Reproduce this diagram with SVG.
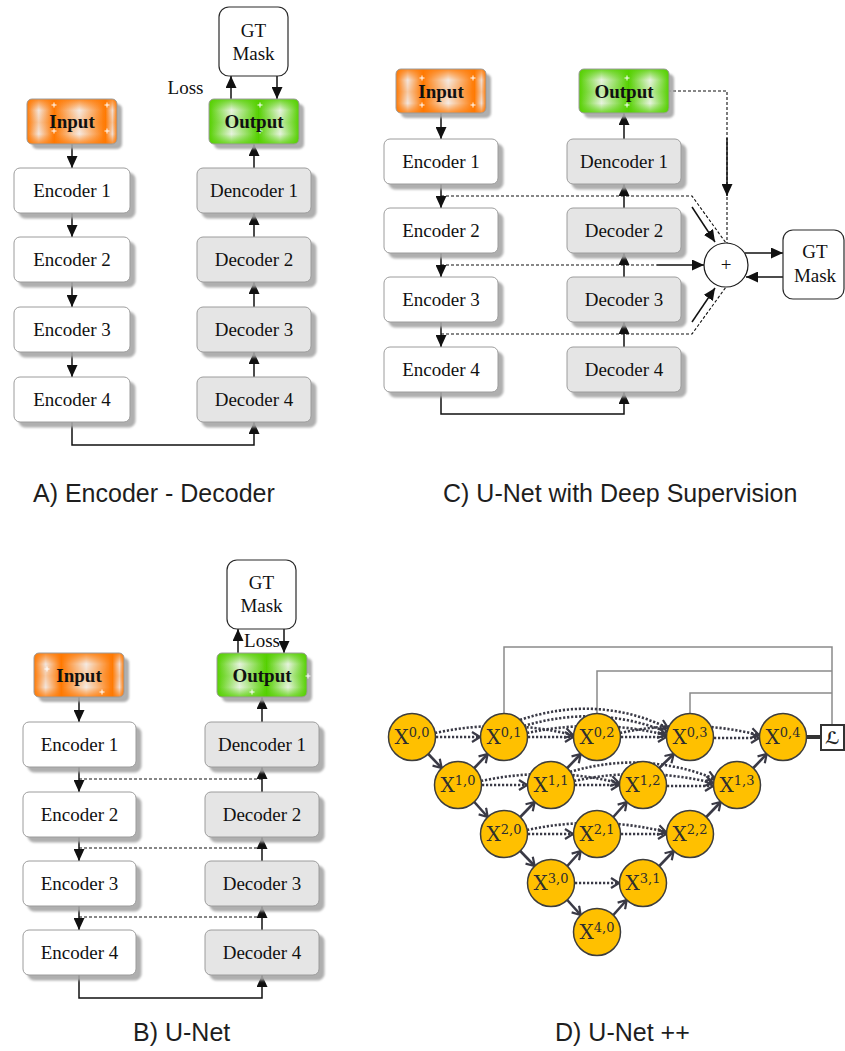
<svg xmlns="http://www.w3.org/2000/svg" xmlns:xlink="http://www.w3.org/1999/xlink" width="845" height="1051" viewBox="0 0 845 1051">
  <style>
    .ln { stroke: #111; stroke-width: 1.5; fill: none; }
    .dash { stroke: #111; stroke-width: 1.1; fill: none; stroke-dasharray: 3 2; }
    .box { stroke: #9c9c9c; stroke-width: 1; }
    .enc { fill: #ffffff; }
    .dec { fill: #e5e5e5; }
    .gt { fill: #ffffff; stroke: #2a2a2a; stroke-width: 1.2; }
    .t { font-family: "Liberation Serif", "Times New Roman", serif; font-size: 19px; fill: #111; text-anchor: middle; }
    .tb { font-weight: bold; }
    .cap { font-family: "Liberation Sans", Arial, sans-serif; font-size: 25px; fill: #1e1e1e; }
    .dsol { stroke: #3a3a46; stroke-width: 2.6; fill: none; }
    .ddot { stroke: #3a3a46; stroke-width: 2.6; fill: none; stroke-dasharray: 2.2 1.8; }
    .gray { stroke: #8a8a8a; stroke-width: 1.5; fill: none; }
    .nd circle { fill: #ffc000; stroke: #3d3d3d; stroke-width: 1.5; }
    .nt { font-family: "DejaVu Serif", "Liberation Serif", serif; font-size: 20px; fill: #2e2e2e; text-anchor: middle; }
  </style>
  <defs>
    <marker id="ah" viewBox="0 0 12 11" refX="12" refY="5.5" markerWidth="12" markerHeight="11" markerUnits="userSpaceOnUse" orient="auto">
      <path d="M0,0 L12,5.5 L0,11 z" fill="#111"/>
    </marker>
    <marker id="chev" viewBox="0 0 10 12" refX="9" refY="6" markerWidth="10" markerHeight="12" markerUnits="userSpaceOnUse" orient="auto">
      <path d="M1,1 L9,6 L1,11" fill="none" stroke="#3a3a46" stroke-width="2.2"/>
    </marker>
    <filter id="sh" x="-10%" y="-10%" width="130%" height="150%">
      <feGaussianBlur in="SourceAlpha" stdDeviation="1.2"/>
      <feOffset dx="5" dy="5" result="b"/>
      <feFlood flood-color="#a6a6a6" flood-opacity="0.9"/>
      <feComposite in2="b" operator="in"/>
      <feMerge><feMergeNode/><feMergeNode in="SourceGraphic"/></feMerge>
    </filter>
    <!-- glossy orange fill: vertical stripes plus horizontal bands -->
    <linearGradient id="orH" x1="0" y1="0" x2="1" y2="0">
      <stop offset="0" stop-color="#ff7800"/>
      <stop offset="0.13" stop-color="#f3e6de"/>
      <stop offset="0.30" stop-color="#ff7800"/>
      <stop offset="0.58" stop-color="#f5ebe4"/>
      <stop offset="0.87" stop-color="#ff7800"/>
      <stop offset="0.95" stop-color="#f2ddd0"/>
      <stop offset="1" stop-color="#ff7800"/>
    </linearGradient>
    <linearGradient id="orV" x1="0" y1="0" x2="0" y2="1">
      <stop offset="0" stop-color="#ff7800" stop-opacity="0.85"/>
      <stop offset="0.25" stop-color="#ff7800" stop-opacity="0"/>
      <stop offset="0.52" stop-color="#ff7800" stop-opacity="0.25"/>
      <stop offset="0.78" stop-color="#ff7800" stop-opacity="0"/>
      <stop offset="1" stop-color="#ff7800" stop-opacity="0.8"/>
    </linearGradient>
    <!-- glossy green fill -->
    <linearGradient id="grH" x1="0" y1="0" x2="1" y2="0">
      <stop offset="0" stop-color="#55d000"/>
      <stop offset="0.25" stop-color="#e8f3e0"/>
      <stop offset="0.55" stop-color="#55d000"/>
      <stop offset="0.79" stop-color="#e8f3e0"/>
      <stop offset="1" stop-color="#55d000"/>
    </linearGradient>
    <linearGradient id="grV" x1="0" y1="0" x2="0" y2="1">
      <stop offset="0" stop-color="#55d000" stop-opacity="0.85"/>
      <stop offset="0.25" stop-color="#55d000" stop-opacity="0"/>
      <stop offset="0.52" stop-color="#55d000" stop-opacity="0.25"/>
      <stop offset="0.78" stop-color="#55d000" stop-opacity="0"/>
      <stop offset="1" stop-color="#55d000" stop-opacity="0.8"/>
    </linearGradient>
    <path id="spk" d="M-2.5,0 H2.5 M0,-2.5 V2.5" stroke="#ffffff" stroke-width="1"/>
  </defs>

  <rect width="845" height="1051" fill="#ffffff"/>

  <g id="connectors">
    <!-- A: encoder-decoder -->
    <g id="conn-a">
      <path class="ln" marker-end="url(#ah)" d="M72,144 V168"/>
      <path class="ln" marker-end="url(#ah)" d="M72,213 V237"/>
      <path class="ln" marker-end="url(#ah)" d="M72,282 V307"/>
      <path class="ln" marker-end="url(#ah)" d="M72,352 V377"/>
      <path class="ln" marker-end="url(#ah)" d="M72,422 V445 H254 V422"/>
      <path class="ln" marker-end="url(#ah)" d="M254,377 V352"/>
      <path class="ln" marker-end="url(#ah)" d="M254,307 V282"/>
      <path class="ln" marker-end="url(#ah)" d="M254,237 V213"/>
      <path class="ln" marker-end="url(#ah)" d="M254,168 V144"/>
      <path class="ln" marker-end="url(#ah)" d="M231,99 V76"/>
      <path class="ln" marker-end="url(#ah)" d="M277,76 V99"/>
    </g>
    <!-- C: U-Net with deep supervision -->
    <g id="conn-c">
      <path class="dash" d="M441,196 H692 L726,243"/>
      <path class="dash" d="M441,265 H657"/>
      <path class="dash" d="M441,334 H692 L726,287"/>
      <path class="dash" d="M668,91 H727 V243"/>
      <path class="ln" marker-end="url(#ah)" d="M727,138 V196"/>
      <path class="ln" marker-end="url(#ah)" d="M692,207 L715,242"/>
      <path class="ln" marker-end="url(#ah)" d="M657,265 H704"/>
      <path class="ln" marker-end="url(#ah)" d="M692,322 L715,288"/>
      <path class="ln" marker-end="url(#ah)" d="M745,253 H783"/>
      <path class="ln" marker-end="url(#ah)" d="M783,277 H746"/>
      <path class="ln" marker-end="url(#ah)" d="M441,113 V139"/>
      <path class="ln" marker-end="url(#ah)" d="M441,184 V208"/>
      <path class="ln" marker-end="url(#ah)" d="M441,253 V277"/>
      <path class="ln" marker-end="url(#ah)" d="M441,322 V347"/>
      <path class="ln" marker-end="url(#ah)" d="M441,392 V414 H624 V392"/>
      <path class="ln" marker-end="url(#ah)" d="M624,347 V322"/>
      <path class="ln" marker-end="url(#ah)" d="M624,277 V253"/>
      <path class="ln" marker-end="url(#ah)" d="M624,208 V184"/>
      <path class="ln" marker-end="url(#ah)" d="M624,139 V113"/>
    </g>
    <!-- B: U-Net -->
    <g id="conn-b">
      <path class="dash" d="M79,779 H262"/>
      <path class="dash" d="M79,848 H262"/>
      <path class="dash" d="M79,917 H262"/>
      <path class="ln" marker-end="url(#ah)" d="M79,697 V722"/>
      <path class="ln" marker-end="url(#ah)" d="M79,767 V792"/>
      <path class="ln" marker-end="url(#ah)" d="M79,837 V861"/>
      <path class="ln" marker-end="url(#ah)" d="M79,906 V930"/>
      <path class="ln" marker-end="url(#ah)" d="M79,975 V998 H262 V975"/>
      <path class="ln" marker-end="url(#ah)" d="M262,930 V906"/>
      <path class="ln" marker-end="url(#ah)" d="M262,861 V837"/>
      <path class="ln" marker-end="url(#ah)" d="M262,792 V767"/>
      <path class="ln" marker-end="url(#ah)" d="M262,722 V697"/>
      <path class="ln" marker-end="url(#ah)" d="M238,653 V629"/>
      <path class="ln" marker-end="url(#ah)" d="M284,629 V653"/>
    </g>
    <!-- D: U-Net++ -->
    <g id="conn-d">
      <path class="gray" d="M504,714 V647 H832 V725"/>
      <path class="gray" d="M597,714 V671 H832"/>
      <path class="gray" d="M690,714 V693 H832"/>
      <path d="M806,737 H821" stroke="#333" stroke-width="4"/>
      <!-- dense skip pathways (pass behind intermediate nodes) -->
      <path class="ddot" marker-end="url(#chev)" d="M435,733 Q504,718 573,735"/>
      <path class="ddot" marker-end="url(#chev)" d="M527,733 Q597,718 666,735"/>
      <path class="ddot" marker-end="url(#chev)" d="M620,733 Q690,718 759,735"/>
      <path class="ddot" marker-end="url(#chev)" d="M520,720 Q597,694 668,728"/>
      <path class="ddot" marker-end="url(#chev)" d="M524,726 Q597,704 667,732"/>
      <path class="ddot" marker-end="url(#chev)" d="M481,781 Q551,766 619,783"/>
      <path class="ddot" marker-end="url(#chev)" d="M574,781 Q643,766 713,783"/>
      <path class="ddot" marker-end="url(#chev)" d="M570,772 Q643,750 715,779"/>
      <path class="ddot" marker-end="url(#chev)" d="M527,830 Q597,815 666,832"/>
      <path class="ddot" marker-end="url(#chev)" d="M436,737 H480"/>
      <path class="ddot" marker-end="url(#chev)" d="M528,737 H573"/>
      <path class="ddot" marker-end="url(#chev)" d="M621,737 H666"/>
      <path class="ddot" marker-end="url(#chev)" d="M714,738 H759"/>
      <path class="ddot" marker-end="url(#chev)" d="M482,785 H527"/>
      <path class="ddot" marker-end="url(#chev)" d="M575,785 H619"/>
      <path class="ddot" marker-end="url(#chev)" d="M667,786 H713"/>
      <path class="ddot" marker-end="url(#chev)" d="M528,834 H573"/>
      <path class="ddot" marker-end="url(#chev)" d="M621,834 H666"/>
      <path class="ddot" marker-end="url(#chev)" d="M575,883 H619"/>
      <!-- down-sampling -->
      <path class="dsol" marker-end="url(#chev)" d="M428.3,754 L441.7,768"/>
      <path class="dsol" marker-end="url(#chev)" d="M474.3,802 L487.7,817"/>
      <path class="dsol" marker-end="url(#chev)" d="M520.3,851 L534.7,866"/>
      <path class="dsol" marker-end="url(#chev)" d="M567.3,900 L580.7,915"/>
      <!-- up-sampling -->
      <path class="dsol" marker-end="url(#chev)" d="M474.3,768 L487.7,754"/>
      <path class="dsol" marker-end="url(#chev)" d="M567.3,768 L580.7,754"/>
      <path class="dsol" marker-end="url(#chev)" d="M659.3,768 L673.7,754"/>
      <path class="dsol" marker-end="url(#chev)" d="M753.3,768 L766.7,754"/>
      <path class="dsol" marker-end="url(#chev)" d="M520.3,817 L534.7,802"/>
      <path class="dsol" marker-end="url(#chev)" d="M613.3,817 L626.7,802"/>
      <path class="dsol" marker-end="url(#chev)" d="M706.3,817 L720.7,802"/>
      <path class="dsol" marker-end="url(#chev)" d="M567.3,866 L580.7,851"/>
      <path class="dsol" marker-end="url(#chev)" d="M659.3,866 L673.7,851"/>
      <path class="dsol" marker-end="url(#chev)" d="M613.3,915 L626.7,900"/>
    </g>
  </g>

  <!-- Panel A -->
  <g id="a-input">
    <rect x="27" y="99" width="90" height="45" rx="5" fill="url(#orH)" filter="url(#sh)"/>
    <rect x="27" y="99" width="90" height="45" rx="5" fill="url(#orV)" class="box"/>
    <use xlink:href="#spk" x="54" y="105"/><use xlink:href="#spk" x="107" y="105"/>
    <use xlink:href="#spk" x="54" y="131"/><use xlink:href="#spk" x="107" y="131"/>
    <text class="t tb" x="72" y="128">Input</text>
  </g>
  <g id="a-enc1"><rect class="box enc" x="14" y="168" width="116" height="45" rx="6" filter="url(#sh)"/><text class="t" x="72" y="197">Encoder 1</text></g>
  <g id="a-enc2"><rect class="box enc" x="14" y="237" width="116" height="45" rx="6" filter="url(#sh)"/><text class="t" x="72" y="266">Encoder 2</text></g>
  <g id="a-enc3"><rect class="box enc" x="14" y="307" width="116" height="45" rx="6" filter="url(#sh)"/><text class="t" x="72" y="336">Encoder 3</text></g>
  <g id="a-enc4"><rect class="box enc" x="14" y="377" width="116" height="45" rx="6" filter="url(#sh)"/><text class="t" x="72" y="406">Encoder 4</text></g>
  <g id="a-output">
    <rect x="209" y="99" width="90" height="45" rx="5" fill="url(#grH)" filter="url(#sh)"/>
    <rect x="209" y="99" width="90" height="45" rx="5" fill="url(#grV)" class="box"/>
    <use xlink:href="#spk" x="260" y="105"/><use xlink:href="#spk" x="260" y="131"/>
    <text class="t tb" x="254" y="128">Output</text>
  </g>
  <g id="a-dec1"><rect class="box dec" x="197" y="168" width="114" height="45" rx="6" filter="url(#sh)"/><text class="t" x="254" y="197">Dencoder 1</text></g>
  <g id="a-dec2"><rect class="box dec" x="197" y="237" width="114" height="45" rx="6" filter="url(#sh)"/><text class="t" x="254" y="266">Decoder 2</text></g>
  <g id="a-dec3"><rect class="box dec" x="197" y="307" width="114" height="45" rx="6" filter="url(#sh)"/><text class="t" x="254" y="336">Decoder 3</text></g>
  <g id="a-dec4"><rect class="box dec" x="197" y="377" width="114" height="45" rx="6" filter="url(#sh)"/><text class="t" x="254" y="406">Decoder 4</text></g>
  <g id="a-gt">
    <rect class="gt" x="219" y="7" width="69" height="69" rx="10"/>
    <text class="t" x="253.5" y="37">GT</text>
    <text class="t" x="253.5" y="60">Mask</text>
  </g>
  <text class="t" x="185.5" y="94">Loss</text>
  <text class="cap" x="33" y="502">A) Encoder - Decoder</text>

  <!-- Panel C -->
  <g id="c-input">
    <rect x="396" y="69" width="90" height="44" rx="5" fill="url(#orH)" filter="url(#sh)"/>
    <rect x="396" y="69" width="90" height="44" rx="5" fill="url(#orV)" class="box"/>
    <use xlink:href="#spk" x="422" y="78"/><use xlink:href="#spk" x="473" y="78"/>
    <use xlink:href="#spk" x="422" y="105"/><use xlink:href="#spk" x="473" y="105"/>
    <text class="t tb" x="441" y="98">Input</text>
  </g>
  <g id="c-enc1"><rect class="box enc" x="384" y="139" width="114" height="45" rx="6" filter="url(#sh)"/><text class="t" x="441" y="168">Encoder 1</text></g>
  <g id="c-enc2"><rect class="box enc" x="384" y="208" width="114" height="45" rx="6" filter="url(#sh)"/><text class="t" x="441" y="237">Encoder 2</text></g>
  <g id="c-enc3"><rect class="box enc" x="384" y="277" width="114" height="45" rx="6" filter="url(#sh)"/><text class="t" x="441" y="306">Encoder 3</text></g>
  <g id="c-enc4"><rect class="box enc" x="384" y="347" width="114" height="45" rx="6" filter="url(#sh)"/><text class="t" x="441" y="376">Encoder 4</text></g>
  <g id="c-output">
    <rect x="579" y="69" width="90" height="44" rx="5" fill="url(#grH)" filter="url(#sh)"/>
    <rect x="579" y="69" width="90" height="44" rx="5" fill="url(#grV)" class="box"/>
    <use xlink:href="#spk" x="627" y="78"/><use xlink:href="#spk" x="627" y="105"/>
    <text class="t tb" x="624" y="98">Output</text>
  </g>
  <g id="c-dec1"><rect class="box dec" x="567" y="139" width="114" height="45" rx="6" filter="url(#sh)"/><text class="t" x="624" y="168">Dencoder 1</text></g>
  <g id="c-dec2"><rect class="box dec" x="567" y="208" width="114" height="45" rx="6" filter="url(#sh)"/><text class="t" x="624" y="237">Decoder 2</text></g>
  <g id="c-dec3"><rect class="box dec" x="567" y="277" width="114" height="45" rx="6" filter="url(#sh)"/><text class="t" x="624" y="306">Decoder 3</text></g>
  <g id="c-dec4"><rect class="box dec" x="567" y="347" width="114" height="45" rx="6" filter="url(#sh)"/><text class="t" x="624" y="376">Decoder 4</text></g>
  <g id="c-sum">
    <circle cx="726" cy="265" r="22" fill="#ffffff" stroke="#1a1a1a" stroke-width="1.2"/>
    <text class="t" x="726" y="271">+</text>
  </g>
  <g id="c-gt">
    <rect class="gt" x="783" y="230" width="61" height="69" rx="10"/>
    <text class="t" x="815" y="258">GT</text>
    <text class="t" x="815" y="282">Mask</text>
  </g>
  <text class="cap" x="443" y="502">C) U-Net with Deep Supervision</text>

  <!-- Panel B -->
  <g id="b-input">
    <rect x="34" y="653" width="90" height="44" rx="5" fill="url(#orH)" filter="url(#sh)"/>
    <rect x="34" y="653" width="90" height="44" rx="5" fill="url(#orV)" class="box"/>
    <use xlink:href="#spk" x="47" y="669"/><use xlink:href="#spk" x="102" y="692"/>
    <text class="t tb" x="79" y="682">Input</text>
  </g>
  <g id="b-enc1"><rect class="box enc" x="23" y="722" width="113" height="45" rx="6" filter="url(#sh)"/><text class="t" x="79.5" y="751">Encoder 1</text></g>
  <g id="b-enc2"><rect class="box enc" x="23" y="792" width="113" height="45" rx="6" filter="url(#sh)"/><text class="t" x="79.5" y="821">Encoder 2</text></g>
  <g id="b-enc3"><rect class="box enc" x="23" y="861" width="113" height="45" rx="6" filter="url(#sh)"/><text class="t" x="79.5" y="890">Encoder 3</text></g>
  <g id="b-enc4"><rect class="box enc" x="23" y="930" width="113" height="45" rx="6" filter="url(#sh)"/><text class="t" x="79.5" y="959">Encoder 4</text></g>
  <g id="b-output">
    <rect x="217" y="653" width="90" height="44" rx="5" fill="url(#grH)" filter="url(#sh)"/>
    <rect x="217" y="653" width="90" height="44" rx="5" fill="url(#grV)" class="box"/>
    <use xlink:href="#spk" x="252" y="692"/><use xlink:href="#spk" x="308" y="676"/>
    <text class="t tb" x="262" y="682">Output</text>
  </g>
  <g id="b-dec1"><rect class="box dec" x="205" y="722" width="114" height="45" rx="6" filter="url(#sh)"/><text class="t" x="262" y="751">Dencoder 1</text></g>
  <g id="b-dec2"><rect class="box dec" x="205" y="792" width="114" height="45" rx="6" filter="url(#sh)"/><text class="t" x="262" y="821">Decoder 2</text></g>
  <g id="b-dec3"><rect class="box dec" x="205" y="861" width="114" height="45" rx="6" filter="url(#sh)"/><text class="t" x="262" y="890">Decoder 3</text></g>
  <g id="b-dec4"><rect class="box dec" x="205" y="930" width="114" height="45" rx="6" filter="url(#sh)"/><text class="t" x="262" y="959">Decoder 4</text></g>
  <g id="b-gt">
    <rect class="gt" x="227" y="560" width="69" height="69" rx="10"/>
    <text class="t" x="261.5" y="589">GT</text>
    <text class="t" x="261.5" y="612">Mask</text>
  </g>
  <text class="t" x="262" y="647">Loss</text>
  <text class="cap" x="133" y="1041">B) U-Net</text>

  <!-- Panel D: nested U-Net nodes X^{i,j} -->
  <g class="nd">
    <g id="x00"><circle cx="412" cy="737" r="23.5"/><text class="nt" x="412" y="744">X<tspan dy="-7" font-size="13">0,0</tspan></text></g>
    <g id="x01"><circle cx="504" cy="737" r="23.5"/><text class="nt" x="504" y="744">X<tspan dy="-7" font-size="13">0,1</tspan></text></g>
    <g id="x02"><circle cx="597" cy="737" r="23.5"/><text class="nt" x="597" y="744">X<tspan dy="-7" font-size="13">0,2</tspan></text></g>
    <g id="x03"><circle cx="690" cy="737" r="23.5"/><text class="nt" x="690" y="744">X<tspan dy="-7" font-size="13">0,3</tspan></text></g>
    <g id="x04"><circle cx="783" cy="737" r="23.5"/><text class="nt" x="783" y="744">X<tspan dy="-7" font-size="13">0,4</tspan></text></g>
    <g id="x10"><circle cx="458" cy="785" r="23.5"/><text class="nt" x="458" y="792">X<tspan dy="-7" font-size="13">1,0</tspan></text></g>
    <g id="x11"><circle cx="551" cy="785" r="23.5"/><text class="nt" x="551" y="792">X<tspan dy="-7" font-size="13">1,1</tspan></text></g>
    <g id="x12"><circle cx="643" cy="785" r="23.5"/><text class="nt" x="643" y="792">X<tspan dy="-7" font-size="13">1,2</tspan></text></g>
    <g id="x13"><circle cx="737" cy="785" r="23.5"/><text class="nt" x="737" y="792">X<tspan dy="-7" font-size="13">1,3</tspan></text></g>
    <g id="x20"><circle cx="504" cy="834" r="23.5"/><text class="nt" x="504" y="841">X<tspan dy="-7" font-size="13">2,0</tspan></text></g>
    <g id="x21"><circle cx="597" cy="834" r="23.5"/><text class="nt" x="597" y="841">X<tspan dy="-7" font-size="13">2,1</tspan></text></g>
    <g id="x22"><circle cx="690" cy="834" r="23.5"/><text class="nt" x="690" y="841">X<tspan dy="-7" font-size="13">2,2</tspan></text></g>
    <g id="x30"><circle cx="551" cy="883" r="23.5"/><text class="nt" x="551" y="890">X<tspan dy="-7" font-size="13">3,0</tspan></text></g>
    <g id="x31"><circle cx="643" cy="883" r="23.5"/><text class="nt" x="643" y="890">X<tspan dy="-7" font-size="13">3,1</tspan></text></g>
    <g id="x40"><circle cx="597" cy="932" r="23.5"/><text class="nt" x="597" y="939">X<tspan dy="-7" font-size="13">4,0</tspan></text></g>
  </g>
  <g id="loss-d">
    <rect x="821" y="725" width="23" height="25" fill="#ffffff" stroke="#333" stroke-width="2"/>
    <text x="832.5" y="744" font-family="DejaVu Serif, DejaVu Sans, serif" font-size="17" font-style="italic" font-weight="bold" fill="#222" text-anchor="middle">ℒ</text>
  </g>
  <text class="cap" x="555" y="1041">D) U-Net ++</text>
</svg>
